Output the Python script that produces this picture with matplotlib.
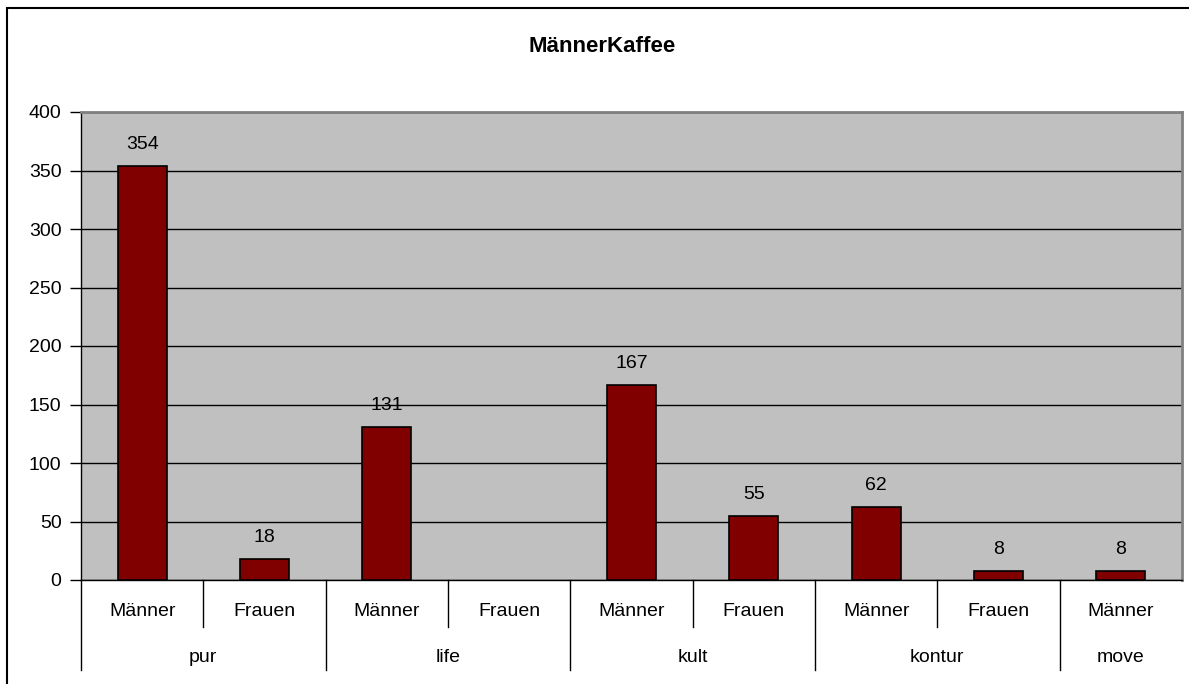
import matplotlib
matplotlib.use("Agg")
import matplotlib.pyplot as plt
import matplotlib.transforms as mtransforms
import numpy as np

plt.rcParams['font.family'] = ['Liberation Sans', 'DejaVu Sans']

title = "MännerKaffee"
groups = ["pur", "life", "kult", "kontur", "move"]
group_sizes = [2, 2, 2, 2, 1]
sexes = ["Männer", "Frauen", "Männer", "Frauen", "Männer", "Frauen", "Männer", "Frauen", "Männer"]
values = [354, 18, 131, None, 167, 55, 62, 8, 8]
yticks = [0, 50, 100, 150, 200, 250, 300, 350, 400]

W, H = 1189, 684
fig = plt.figure(figsize=(W / 100, H / 100), dpi=100)

# outer chart border
fig.patches.append(plt.Rectangle((7 / W, -0.05), 1.2, (H - 8) / H + 0.05,
                                 transform=fig.transFigure, fill=False,
                                 edgecolor='black', linewidth=1.5))

left, right, top, bottom = 81, 1182, 112, 580
ax = fig.add_axes([left / W, (H - bottom) / H, (right - left) / W, (bottom - top) / H])
ax.set_facecolor('#C0C0C0')

x = np.arange(len(sexes))
vals = np.array([np.nan if v is None else v for v in values], dtype=float)
mask = ~np.isnan(vals)
ax.bar(x[mask], vals[mask], width=0.4, color='#800000', edgecolor='black',
       linewidth=1.2, zorder=3)

ax.set_xlim(-0.5, len(sexes) - 0.5)
ax.set_ylim(0, 400)
ax.set_yticks(yticks)
ax.set_yticklabels([str(t) for t in yticks], fontsize=14)
ax.tick_params(axis='y', length=8, width=1, pad=6, color='black')
ax.set_xticks([])
ax.yaxis.grid(True, color='black', linewidth=1)
ax.set_axisbelow(True)

for s in ['top', 'right']:
    ax.spines[s].set_color('#808080')
    ax.spines[s].set_linewidth(2)
ax.spines['left'].set_color('black')
ax.spines['left'].set_linewidth(1)
ax.spines['bottom'].set_color('black')
ax.spines['bottom'].set_linewidth(1)

# data labels
for xi, v in zip(x[mask], vals[mask]):
    ax.annotate(str(int(v)), (xi, v), xytext=(0, 13), textcoords='offset pixels',
                ha='center', va='bottom', fontsize=14, zorder=4)

# two-level category axis
trans = mtransforms.blended_transform_factory(ax.transData, ax.transAxes)
ah = bottom - top
def yf(py):
    return (bottom - py) / ah

y_lab1, y_inner_end, y_lab2, y_outer_end = yf(612), yf(627), yf(658), yf(670)

for xi, s in zip(x, sexes):
    ax.text(xi, y_lab1, s, transform=trans, ha='center', va='center', fontsize=14)

starts = np.cumsum([0] + group_sizes[:-1])
for g, st, n in zip(groups, starts, group_sizes):
    ax.text(st + (n - 1) / 2, y_lab2, g, transform=trans, ha='center', va='center', fontsize=14)
    ax.plot([st - 0.5, st - 0.5], [0, y_outer_end], transform=trans, color='black',
            linewidth=1, clip_on=False)
    for k in range(1, n):
        ax.plot([st + k - 0.5, st + k - 0.5], [0, y_inner_end], transform=trans,
                color='black', linewidth=1, clip_on=False)

fig.text(602 / W, 1 - 46 / H, title, ha='center', va='center', fontsize=16,
         fontweight='bold')

fig.savefig("out.png", dpi=100)
